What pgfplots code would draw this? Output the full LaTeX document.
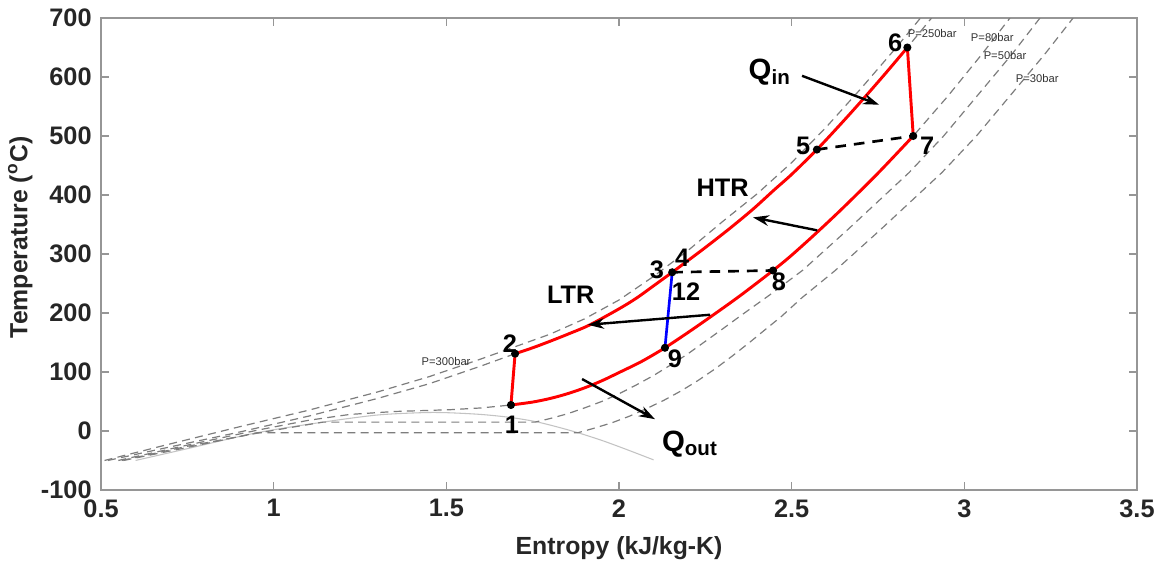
\documentclass[border=0pt]{standalone}
\usepackage{fontspec}
\setmainfont{Liberation Sans}
\usepackage{pgfplots}
\pgfplotsset{compat=1.18}
\usetikzlibrary{arrows.meta}
\definecolor{axgray}{RGB}{150,150,150}
\definecolor{isogray}{RGB}{125,125,125}
\definecolor{domegray}{RGB}{195,195,195}
\definecolor{txt}{RGB}{38,38,38}
\tikzset{
  iso/.style={isogray, line width=0.45pt, dash pattern=on 3pt off 2pt},
  lbl/.style={font=\fontsize{9.5}{10}\selectfont\bfseries, text=black},
  plbl/.style={font=\fontsize{4.2}{5}\selectfont, text=black!80},
}

\begin{document}
\begin{tikzpicture}
\begin{axis}[
  scale only axis, width=388.5pt, height=177pt,
  xmin=0.5, xmax=3.5, ymin=-100, ymax=700,
  xtick={0.5,1,1.5,2,2.5,3,3.5}, xticklabels={0.5,1,1.5,2,2.5,3,3.5},
  ytick={-100,0,100,200,300,400,500,600,700},
  yticklabels={-100,0,100,200,300,400,500,600,700},
  tick align=inside, major tick length=3pt,
  axis line style={axgray, line width=0.5pt}, tick style={axgray, line width=0.5pt},
  tick label style={font=\fontsize{9.5}{10}\selectfont\bfseries, text=txt},
  xlabel={Entropy (kJ/kg-K)}, ylabel={Temperature (\textsuperscript{o}C)},
  label style={font=\fontsize{9.3}{10}\selectfont\bfseries, text=txt},
  xlabel style={at={(axis description cs:0.5,-0.123)}, anchor=center},
  ylabel style={at={(axis description cs:-0.078,0.535)}, anchor=center},
  clip=true,
]
% saturation dome
\addplot[domegray, line width=0.4pt, smooth] coordinates {
  (0.60,-50) (0.75,-30) (0.952,-3) (1.143,15) (1.3,27) (1.43,31) (1.5,31)
  (1.6,28) (1.684,23) (1.757,16) (1.82,7) (1.881,-3) (1.95,-16) (2.02,-31) (2.1,-49)};
% P=300bar
\addplot[iso] coordinates {
  (0.51,-50) (0.7,-22) (0.9,7) (1.1,35) (1.3,66) (1.45,92) (1.6,122) (1.7,143)
  (1.8,164) (1.9,190) (2.0,222) (2.1,262) (2.2,306) (2.3,355) (2.4,402)
  (2.5,455) (2.6,515) (2.7,580) (2.8,648) (2.873,700)};
% P=250bar
\addplot[iso] coordinates {
  (0.52,-50) (0.7,-27) (0.9,-2) (1.1,25) (1.3,55) (1.45,80) (1.6,110)
  (1.699,131) (1.75,141) (1.80,152) (1.86,166) (1.916,180) (2.0,207) (2.05,225)
  (2.1,246) (2.154,269) (2.2,289) (2.25,311) (2.32,343) (2.388,376) (2.45,409)
  (2.5,435) (2.573,477) (2.64,519) (2.7,558) (2.77,605) (2.835,650) (2.905,700)};
% P=80bar
\addplot[iso] coordinates {
  (0.55,-50) (0.75,-24) (0.95,1) (1.1,18) (1.22,28) (1.35,33) (1.51,36) (1.6,39)
  (1.687,44) (1.75,49) (1.80,55) (1.85,63) (1.90,73) (1.95,85) (2.0,99)
  (2.066,118) (2.133,141) (2.2,167) (2.264,193) (2.35,229) (2.446,272)
  (2.5,298) (2.574,337) (2.65,379) (2.75,437) (2.852,500) (2.95,566) (3.05,638) (3.132,700)};
% P=50bar
\addplot[iso] coordinates {
  (0.56,-50) (0.75,-26) (0.95,-4) (1.05,6) (1.143,15) (1.757,15) (1.80,21)
  (1.85,29) (1.90,39) (1.95,50) (2.0,63) (2.05,78) (2.1,94) (2.15,112) (2.2,131)
  (2.25,152) (2.3,173) (2.349,194) (2.435,230) (2.531,272) (2.66,340) (2.84,438)
  (2.94,500) (3.137,638) (3.219,700)};
% P=30bar
\addplot[iso] coordinates {
  (0.565,-50) (0.75,-28) (0.952,-3) (1.881,-3) (1.93,5) (1.98,14) (2.03,25)
  (2.08,38) (2.13,52) (2.18,68) (2.23,86) (2.28,106) (2.33,128) (2.38,151)
  (2.43,175) (2.47,194) (2.53,226) (2.626,272) (2.755,340) (2.935,438)
  (3.035,500) (3.232,638) (3.315,700)};

% cycle: high pressure side 2 -> 6
\addplot[red, line width=1.1pt, smooth] coordinates {
  (1.699,131) (1.75,141) (1.80,152) (1.86,166) (1.916,180) (2.0,207) (2.05,225)
  (2.1,246) (2.154,269) (2.2,289) (2.25,311) (2.32,343) (2.388,376) (2.45,409)
  (2.5,435) (2.573,477) (2.64,519) (2.7,558) (2.77,605) (2.835,650)};
% low pressure side 7 -> 1
\addplot[red, line width=1.1pt, smooth] coordinates {
  (1.687,44) (1.75,49) (1.80,55) (1.85,63) (1.90,73) (1.95,85) (2.0,99)
  (2.066,118) (2.133,141) (2.2,167) (2.264,193) (2.35,229) (2.446,272)
  (2.5,298) (2.574,337) (2.65,379) (2.75,437) (2.852,500)};
\addplot[red, line width=1.1pt] coordinates {(1.687,44) (1.699,131)};
\addplot[red, line width=1.1pt] coordinates {(2.835,650) (2.852,500)};
\addplot[blue, line width=1pt] coordinates {(2.154,269) (2.133,141)};
\addplot[black, line width=1pt, dash pattern=on 4pt off 3pt] coordinates {(2.573,477) (2.852,500)};
\addplot[black, line width=1pt, dash pattern=on 4pt off 3pt] coordinates {(2.154,269) (2.446,272)};

% state points
\addplot[only marks, mark=*, mark size=1.3pt, black] coordinates {
  (1.687,44) (1.699,131) (2.154,269) (2.573,477) (2.835,650) (2.852,500) (2.446,272) (2.133,141)};

% heat flow arrows
\addplot[black, line width=0.9pt, -{Stealth[length=6pt,width=4pt]}] coordinates {(2.530,602) (2.753,553)};
\addplot[black, line width=0.9pt, -{Stealth[length=6pt,width=4pt]}] coordinates {(2.574,340) (2.388,362)};
\addplot[black, line width=0.9pt, -{Stealth[length=6pt,width=4pt]}] coordinates {(2.264,197) (1.910,180)};
\addplot[black, line width=0.9pt, -{Stealth[length=6pt,width=4pt]}] coordinates {(1.893,88) (2.104,20)};

\node[lbl] at (axis cs:1.69,10) {1};
\node[lbl] at (axis cs:1.684,148) {2};
\node[lbl] at (axis cs:2.11,274) {3};
\node[lbl] at (axis cs:2.183,293) {4};
\node[lbl] at (axis cs:2.194,236) {12};
\node[lbl] at (axis cs:2.533,483) {5};
\node[lbl] at (axis cs:2.80,658) {6};
\node[lbl] at (axis cs:2.892,483) {7};
\node[lbl] at (axis cs:2.463,253) {8};
\node[lbl] at (axis cs:2.162,122) {9};
\node[lbl] at (axis cs:2.30,412) {HTR};
\node[lbl] at (axis cs:1.86,230) {LTR};
\node[font=\fontsize{11}{12}\selectfont\bfseries] at (axis cs:2.437,608) {Q\textsubscript{in}};
\node[font=\fontsize{11}{12}\selectfont\bfseries] at (axis cs:2.206,-22) {Q\textsubscript{out}};
\node[plbl] at (axis cs:2.907,673) {P=250bar};
\node[plbl] at (axis cs:3.081,667) {P=80bar};
\node[plbl] at (axis cs:3.118,636) {P=50bar};
\node[plbl] at (axis cs:3.211,597) {P=30bar};
\node[plbl] at (axis cs:1.499,117) {P=300bar};
\end{axis}
\pgfresetboundingbox
\path[use as bounding box] ([xshift=-37.9pt,yshift=-28.1pt]current axis.south west)
  rectangle ([xshift=9.75pt,yshift=6.75pt]current axis.north east);
\end{tikzpicture}
\end{document}
